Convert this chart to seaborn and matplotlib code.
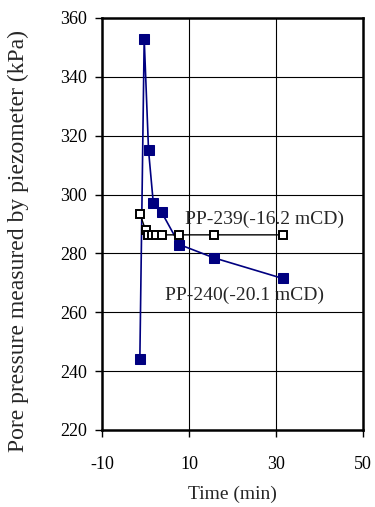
import matplotlib
matplotlib.use("Agg")
import matplotlib.pyplot as plt
import seaborn as sns
import pandas as pd

# Piezometer PP-240 (-20.1 mCD)
t_240 = [-1.3, -0.3, 0.7, 1.8, 3.7, 7.8, 15.7, 31.5]
p_240 = [244.0, 353.0, 315.0, 297.0, 294.0, 283.0, 278.5, 271.5]

# Piezometer PP-239 (-16.2 mCD)
t_239 = [-1.3, 0.0, 0.6, 1.4, 2.4, 3.8, 7.8, 15.7, 31.5]
p_239 = [293.5, 288.0, 286.3, 286.3, 286.3, 286.3, 286.3, 286.3, 286.3]

x_ticks = [-10, 10, 30, 50]
y_ticks = [220, 240, 260, 280, 300, 320, 340, 360]

sns.set_style("white")
plt.rcParams["font.family"] = ["Liberation Serif", "DejaVu Serif"]

fig = plt.figure(figsize=(3.75, 5.07), dpi=100)
ax = fig.add_axes([0.272, 0.152, 0.696, 0.8125])

df240 = pd.DataFrame({"t": t_240, "p": p_240})
df239 = pd.DataFrame({"t": t_239, "p": p_239})

sns.lineplot(data=df240, x="t", y="p", ax=ax, sort=False, color="#000080",
             linewidth=1.2, marker="s", markersize=7.5,
             markerfacecolor="#000080", markeredgecolor="#000080", zorder=3)
sns.lineplot(data=df239, x="t", y="p", ax=ax, sort=False, color="black",
             linewidth=1.0, marker="s", markersize=5.5,
             markerfacecolor="white", markeredgecolor="black",
             markeredgewidth=1.4, zorder=4)

ax.set_xlim(-10, 50)
ax.set_ylim(220, 360)
ax.set_xticks(x_ticks)
ax.set_yticks(y_ticks)
ax.set_xticklabels([str(v) for v in x_ticks])
ax.set_yticklabels([str(v) for v in y_ticks])

for xv in [10, 30]:
    ax.axvline(xv, color="black", linewidth=0.8, zorder=1)
for yv in y_ticks[1:-1]:
    ax.axhline(yv, color="black", linewidth=0.8, zorder=1)

for s in ax.spines.values():
    s.set_visible(True)
    s.set_color("black")
    s.set_linewidth(1.8)

ax.tick_params(axis="both", direction="out", length=5, width=1,
               color="black", labelsize=13, labelcolor="black",
               bottom=True, left=True)
ax.tick_params(axis="x", pad=14)
ax.tick_params(axis="y", pad=6)

ax.set_xlabel("Time (min)", fontsize=14, labelpad=9)
ax.set_ylabel("Pore pressure measured by piezometer (kPa)", fontsize=17)
ax.yaxis.set_label_coords(-0.28, 0.459)

ax.text(9.1, 291.7, "PP-239(-16.2 mCD)", fontsize=14, va="center", ha="left")
ax.text(4.5, 265.9, "PP-240(-20.1 mCD)", fontsize=14, va="center", ha="left")

fig.savefig("out.png", dpi=100)
